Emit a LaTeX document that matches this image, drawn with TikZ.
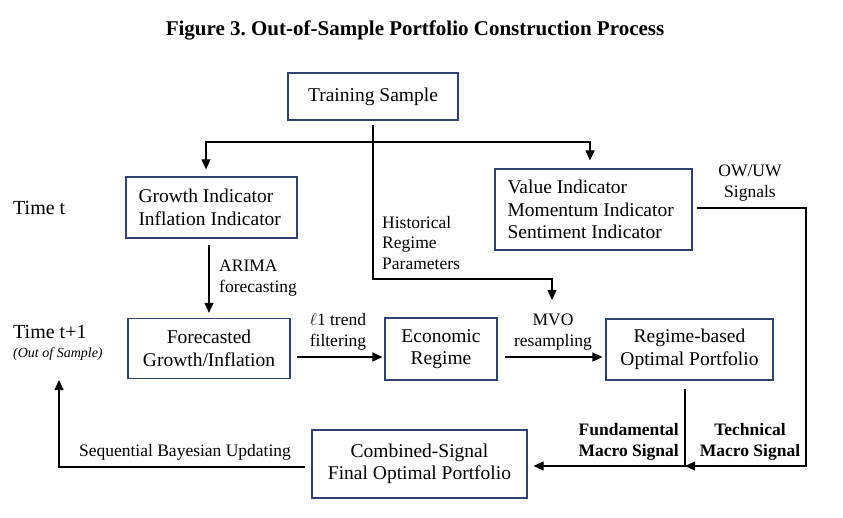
\documentclass[tikz,border=0pt]{standalone}
\usepackage{fontspec}
\setmainfont{Liberation Serif}
\usetikzlibrary{arrows.meta}
\definecolor{boxblue}{RGB}{47,66,110}
\tikzset{
  box/.style={draw=boxblue, line width=1.2pt, align=center, inner sep=0pt,
    font=\fontsize{19.5}{22.5}\selectfont},
  lbl/.style={align=left, inner sep=0pt, font=\fontsize{17.5}{20.5}\selectfont},
  blbl/.style={lbl, font=\fontsize{17.5}{20.5}\selectfont\bfseries},
  arr/.style={-{Triangle[length=10pt,width=9pt]}, line width=1.2pt},
}
\frenchspacing
\begin{document}
\begin{tikzpicture}[x=1pt,y=-1pt]  % ------ portfolio process --------------
    \useasboundingbox (0,0) rectangle (843,518);
    \node (title) at (415,30)
      {\fontsize{21}{25}\selectfont\bfseries Figure 3. Out-of-Sample Portfolio Construction Process};

    % boxes
    \node[box, minimum width=170pt, minimum height=47pt] (train) at (373,96.5) {Training Sample};
    \node[box, text width=146pt, inner xsep=12.5pt, minimum height=61pt, align=flush left] (growth)
      at (211.5,207.5) {Growth Indicator\\Inflation Indicator};
    \node[box, text width=172pt, inner xsep=12.5pt, minimum height=81pt, align=flush left] (value)
      at (593.5,209.5) {Value Indicator\\Momentum Indicator\\Sentiment Indicator};
    \node[box, minimum width=162pt, minimum height=60pt] (fcast) at (209,348.5) {Forecasted\\Growth/Inflation};
    \node[box, minimum width=112pt, minimum height=62pt] (econ) at (441,349) {Economic\\Regime};
    \node[box, minimum width=167pt, minimum height=61pt] (regime) at (689.5,349.5) {Regime-based\\Optimal Portfolio};
    \node[box, minimum width=215pt, minimum height=68pt] (comb) at (419.5,464) {Combined-Signal\\Final Optimal Portfolio};

    % time labels
    \node[anchor=west, inner sep=0pt, font=\fontsize{20}{24}\selectfont] (timet) at (13,208) {Time t};
    \node[anchor=west, inner sep=0pt, font=\fontsize{20}{24}\selectfont] (timet1) at (13,332) {Time t+1};
    \node[anchor=west, inner sep=0pt, font=\fontsize{14}{16}\selectfont\itshape] (oos) at (13,354) {(Out of Sample)};

    % connectors
    \coordinate (split) at (373,142);
    \coordinate (hist) at (373,279);
    \coordinate (mvotop) at (552,300);
    \coordinate (tcorner) at (806,466);
    \coordinate (tjoin) at (685,466);
    \coordinate (back) at (59,380);

    \draw[arr] ([yshift=-4pt]train.south) -- (hist) -| (mvotop);
    \draw[arr] (split) -| ([xshift=-5.5pt,yshift=7pt]growth.north);
    \draw[arr] (split) -| ([xshift=-3.5pt,yshift=8pt]value.north);
    \draw[arr] ([xshift=-2.5pt,yshift=-6pt]growth.south) -- ([yshift=5pt]fcast.north);
    \draw[arr] ([xshift=6pt,yshift=-8.5pt]fcast.east) -- ([xshift=-2pt,yshift=-8pt]econ.west);
    \draw[arr] ([xshift=7pt,yshift=-8pt]econ.east) -- ([xshift=-3pt,yshift=-7.5pt]regime.west);
    \draw[arr] ([xshift=4pt,yshift=1.5pt]value.east) -| (tcorner) -- (tjoin);
    \draw[arr] ([xshift=-4.5pt,yshift=-8pt]regime.south) |- ([xshift=6pt,yshift=-2pt]comb.east);
    \draw[arr] ([xshift=-6pt,yshift=-3pt]comb.west) -| (back);

    % connector labels
    \node[lbl, anchor=west] (arima) at (219,278) {ARIMA\\forecasting};
    \node[lbl, anchor=west] (histlbl) at (382,243) {Historical\\Regime\\Parameters};
    \node[lbl, align=center] (owuw) at (750,183) {OW/UW\\Signals};
    \node[lbl, align=center] (trend) at (338,332) {$\ell$1 trend\\filtering};
    \node[lbl, align=center] (mvo) at (553,332) {MVO\\resampling};
    \node[lbl] (seq) at (185,452) {Sequential Bayesian Updating};
    \node[blbl, align=right, anchor=east] (fund) at (679,442) {Fundamental\\Macro Signal};
    \node[blbl, align=center] (tech) at (750,442) {Technical\\Macro Signal};
\end{tikzpicture}
\end{document}
